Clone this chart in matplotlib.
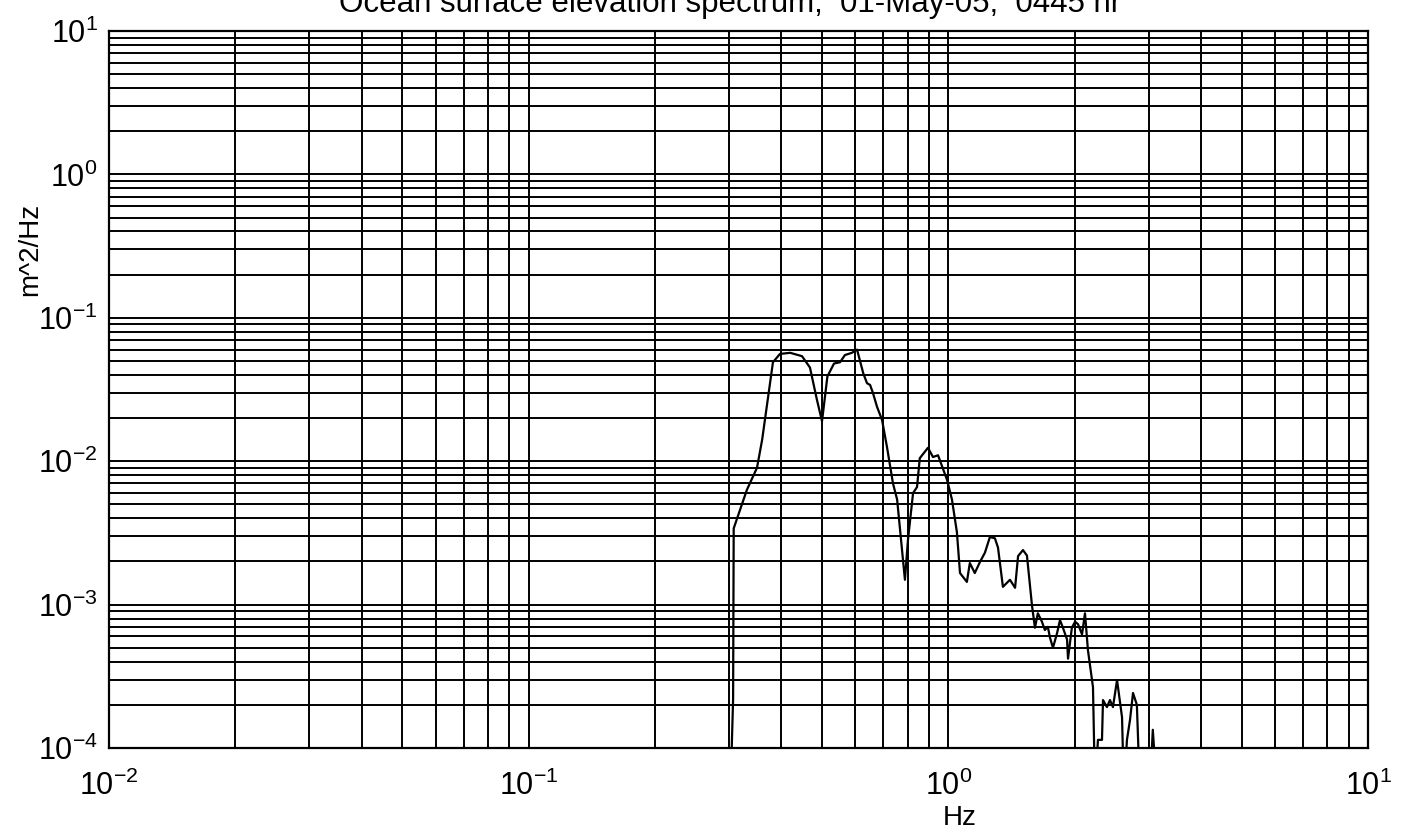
import numpy as np
import matplotlib
matplotlib.use('Agg')
import matplotlib.pyplot as plt

plt.rcParams['font.family'] = ['Liberation Sans', 'DejaVu Sans']
plt.rcParams['mathtext.default'] = 'regular'

# ------------------------------------------
# Spectrum (Hz, m^2/Hz)
# ------------------------------------------
freq = [0.300, 0.307, 0.308, 0.331, 0.350, 0.360, 0.382, 0.397, 0.420, 0.448,
        0.468, 0.486, 0.500, 0.515, 0.534, 0.552, 0.567, 0.589, 0.606, 0.627,
        0.640, 0.651, 0.661, 0.676, 0.695, 0.714, 0.738, 0.755, 0.788, 0.801,
        0.824, 0.842, 0.855, 0.894, 0.919, 0.945, 0.993, 1.020, 1.048, 1.066,
        1.107, 1.125, 1.156, 1.189, 1.222, 1.256, 1.291, 1.313, 1.349, 1.402,
        1.442, 1.466, 1.506, 1.539, 1.582, 1.608, 1.634, 1.671, 1.698, 1.726,
        1.746, 1.775, 1.815, 1.845, 1.875, 1.918, 1.928, 1.969, 2.004, 2.037,
        2.082, 2.116, 2.151, 2.211, 2.236, 2.272, 2.323, 2.336, 2.387, 2.427,
        2.467, 2.523, 2.593, 2.620, 2.664, 2.709, 2.754, 2.813, 2.860, 3.020,
        3.070, 3.140]
psd = [2e-5, 2.2e-4, 3.4e-3, 6.3e-3, 9.0e-3, 1.41e-2, 4.9e-2, 5.6e-2, 5.7e-2, 5.4e-2,
       4.5e-2, 2.7e-2, 1.9e-2, 3.9e-2, 4.8e-2, 4.9e-2, 5.5e-2, 5.7e-2, 6.0e-2, 4.1e-2,
       3.5e-2, 3.4e-2, 3.0e-2, 2.4e-2, 1.94e-2, 1.26e-2, 7.0e-3, 5.4e-3, 1.49e-3, 2.8e-3,
       6.0e-3, 6.6e-3, 1.05e-2, 1.24e-2, 1.07e-2, 1.1e-2, 7.4e-3, 5.4e-3, 3.2e-3, 1.66e-3,
       1.44e-3, 1.95e-3, 1.66e-3, 1.98e-3, 2.3e-3, 2.96e-3, 2.9e-3, 2.5e-3, 1.33e-3, 1.49e-3,
       1.31e-3, 2.18e-3, 2.4e-3, 2.2e-3, 9.9e-4, 6.9e-4, 8.7e-4, 7.6e-4, 6.65e-4, 7.0e-4,
       5.9e-4, 5.0e-4, 6.3e-4, 7.8e-4, 6.9e-4, 5.7e-4, 4.2e-4, 6.9e-4, 7.6e-4, 7.3e-4,
       6.2e-4, 8.7e-4, 4.8e-4, 2.66e-4, 5e-5, 1.14e-4, 1.14e-4, 2.16e-4, 1.93e-4, 2.16e-4,
       1.93e-4, 2.98e-4, 1.64e-4, 5e-5, 1.14e-4, 1.57e-4, 2.42e-4, 2.0e-4, 5e-5, 5e-5,
       1.34e-4, 5e-5]

title_text = 'Ocean surface elevation spectrum,  01-May-05,  0445 hr'

# ------------------------------------------
# Figure
# ------------------------------------------
fig = plt.figure(figsize=(14.04, 8.4), dpi=100)
ax = fig.add_axes([0.0776, 0.1095, 0.8968, 0.8536])

ax.loglog(freq, psd, color='black', linewidth=1.6)

ax.set_xlim(1e-2, 1e1)
ax.set_ylim(1e-4, 1e1)

ax.grid(True, which='both', color='black', linestyle='-', linewidth=1.4)
ax.set_axisbelow(True)
for sp in ax.spines.values():
    sp.set_linewidth(1.6)

ax.tick_params(which='both', direction='in', length=0, labelsize=22)
ax.tick_params(axis='x', pad=16)
ax.tick_params(axis='y', pad=8)
ax.minorticks_on()
ax.tick_params(which='minor', labelbottom=False, labelleft=False)

ax.set_xlabel('Hz', fontsize=20)
ax.set_ylabel('m^2/Hz', fontsize=20)
ax.xaxis.set_label_coords(0.676, -0.079)
ax.yaxis.set_label_coords(-0.052, 0.695)

fig.text(0.52, 1 - 12 / 840, title_text, ha='center', va='baseline', fontsize=22.5)

fig.savefig('out.png', dpi=100)
